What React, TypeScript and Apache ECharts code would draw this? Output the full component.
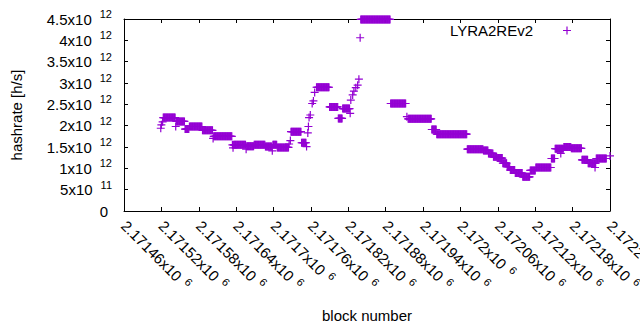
import React, { useEffect, useRef } from 'react';
import * as echarts from 'echarts';

const FONT = '"Liberation Sans", Arial, sans-serif';
const PURPLE = '#9400d3';

const seriesName = 'LYRA2REv2';
const xAxisName = 'block number';
const yAxisName = 'hashrate [h/s]';

// Runs of blocks sharing one hashrate reading (value in units of 1e12 h/s)
const runStart = [
  2171519, 2171520, 2171522, 2171523, 2171543, 2171544, 2171558, 2171565, 2171586, 2171603,
  2171604, 2171634, 2171635, 2171636, 2171656, 2171657, 2171669, 2171687, 2171698, 2171699,
  2171706, 2171725, 2171727, 2171728, 2171745, 2171753, 2171755, 2171756, 2171757, 2171759,
  2171762, 2171764, 2171766, 2171769, 2171790, 2171804, 2171811, 2171823, 2171824, 2171827,
  2171829, 2171832, 2171835, 2171837, 2171839, 2171840, 2171888, 2171914, 2171916, 2171954,
  2171962, 2172011, 2172037, 2172045, 2172053, 2172059, 2172068, 2172075, 2172080, 2172088,
  2172100, 2172112, 2172121, 2172146, 2172152, 2172161, 2172166, 2172178, 2172195, 2172205,
  2172216, 2172218, 2172240,
];
const runEnd = [
  2171519, 2171520, 2171522, 2171542, 2171543, 2171557, 2171564, 2171585, 2171602, 2171603,
  2171633, 2171634, 2171635, 2171655, 2171656, 2171668, 2171686, 2171697, 2171698, 2171705,
  2171724, 2171725, 2171727, 2171744, 2171752, 2171753, 2171755, 2171756, 2171757, 2171759,
  2171762, 2171764, 2171766, 2171789, 2171803, 2171810, 2171822, 2171823, 2171824, 2171827,
  2171829, 2171832, 2171835, 2171837, 2171839, 2171887, 2171912, 2171914, 2171953, 2171961,
  2172010, 2172036, 2172044, 2172052, 2172058, 2172067, 2172074, 2172079, 2172087, 2172099,
  2172111, 2172120, 2172145, 2172151, 2172165, 2172161, 2172177, 2172194, 2172204, 2172217,
  2172216, 2172234, 2172240,
];
const runValue = [
  1.94, 2.02, 2.09, 2.19, 1.98, 2.10, 1.92, 1.98, 1.89, 1.70,
  1.75, 1.55, 1.48, 1.55, 1.45, 1.52, 1.55, 1.51, 1.41, 1.55,
  1.49, 1.57, 1.65, 1.86, 1.60, 1.51, 1.83, 1.98, 2.19, 2.25,
  2.52, 2.58, 2.78, 2.90, 2.44, 2.17, 2.40, 2.29, 2.60, 2.72,
  2.81, 2.89, 2.95, 3.09, 4.06, 4.49, 2.52, 2.21, 2.16, 1.91,
  1.80, 1.45, 1.42, 1.35, 1.27, 1.24, 1.12, 1.04, 0.96, 0.89,
  0.80, 0.95, 1.02, 1.23, 1.46, 1.35, 1.50, 1.47, 1.20, 1.12,
  1.02, 1.23, 1.29,
];

const xMin = 2171460;
const xMax = 2172240;
const xStep = 60;
const xTickMant = [
  '2.17146', '2.17152', '2.17158', '2.17164', '2.1717', '2.17176', '2.17182',
  '2.17188', '2.17194', '2.172', '2.17206', '2.17212', '2.17218', '2.17224',
];
const xTickExp = '6';

const yMin = 0;
const yMax = 4.5e12;
const yStep = 0.5e12;
const yTickMant = ['0', '5', '1', '1.5', '2', '2.5', '3', '3.5', '4', '4.5'];
const yTickExp = ['', '11', '12', '12', '12', '12', '12', '12', '12', '12'];

const PLUS = 'path://M3.4,0h1.2v3.4h3.4v1.2h-3.4v3.4h-1.2v-3.4h-3.4v-1.2h3.4z';
const LEGEND_ICON = 'path://M0,4h0.001v0.001h-0.001z M28.4,0h1.2v3.4h3.4v1.2h-3.4v3.4h-1.2v-3.4h-3.4v-1.2h3.4z';

export default function App() {
  const ref = useRef<HTMLDivElement>(null);
  useEffect(() => {
    if (!ref.current) return;
    const chart = echarts.init(ref.current, undefined, { renderer: 'svg' });
    const data: number[][] = [];
    for (let i = 0; i < runStart.length; i++) {
      for (let b = runStart[i]; b <= runEnd[i]; b++) data.push([b, runValue[i] * 1e12]);
    }
    const axisLineStyle = { show: true, onZero: false, lineStyle: { color: '#000', width: 1 } };
    const tickStyle = { show: true, inside: true, length: 4, lineStyle: { color: '#000', width: 1 } };
    const textBase = { fontSize: 15, fontFamily: FONT, color: '#000' };
    chart.setOption({
      animation: false,
      backgroundColor: '#fff',
      grid: { left: 124, right: 30, top: 19, bottom: 119, containLabel: false, outerBoundsMode: 'none' },
      legend: {
        data: [{ name: seriesName, icon: LEGEND_ICON }],
        right: 69,
        top: 23,
        align: 'right',
        itemWidth: 33,
        itemHeight: 8,
        padding: 0,
        selectedMode: false,
        textStyle: { ...textBase },
      },
      xAxis: [
        {
          type: 'value', position: 'bottom', min: xMin, max: xMax, interval: xStep,
          axisLine: axisLineStyle, axisTick: tickStyle, splitLine: { show: false },
          axisLabel: {
            ...textBase, rotate: -45, margin: 12, lineHeight: 19, hideOverlap: false,
            formatter: (v: number) => {
              const i = Math.round((v - xMin) / xStep);
              return `${xTickMant[i]}x10{sup|${xTickExp}}`;
            },
            rich: { sup: { fontSize: 11, fontFamily: FONT, color: '#000', verticalAlign: 'top', padding: [0, 0, 0, 6] } },
          },
          name: xAxisName, nameLocation: 'middle', nameGap: 97, nameMoveOverlap: false,
          nameTextStyle: { ...textBase },
        },
        {
          type: 'value', position: 'top', min: xMin, max: xMax, interval: xStep,
          axisLine: axisLineStyle, axisTick: tickStyle, splitLine: { show: false },
          axisLabel: { show: false },
        },
      ],
      yAxis: [
        {
          type: 'value', position: 'left', min: yMin, max: yMax, interval: yStep,
          axisLine: axisLineStyle, axisTick: tickStyle, splitLine: { show: false },
          axisLabel: {
            ...textBase, margin: 12, lineHeight: 21,
            formatter: (v: number) => {
              const i = Math.round(v / yStep);
              if (!yTickExp[i]) return `{z|${yTickMant[i]}}`;
              return `${yTickMant[i]}x10{sup|${yTickExp[i]}}`;
            },
            rich: {
              sup: { fontSize: 11, fontFamily: FONT, color: '#000', verticalAlign: 'top', padding: [0, 0, 0, 8] },
              z: { fontSize: 15, fontFamily: FONT, color: '#000', padding: [0, 4, 0, 0] },
            },
          },
          name: yAxisName, nameLocation: 'middle', nameGap: 100, nameMoveOverlap: false,
          nameTextStyle: { ...textBase },
        },
        {
          type: 'value', position: 'right', min: yMin, max: yMax, interval: yStep,
          axisLine: axisLineStyle, axisTick: tickStyle, splitLine: { show: false },
          axisLabel: { show: false },
        },
      ],
      series: [
        {
          name: seriesName,
          type: 'scatter',
          data,
          symbol: PLUS,
          symbolSize: 8,
          clip: false,
          itemStyle: { color: PURPLE, opacity: 1 },
          emphasis: { disabled: true },
        },
      ],
    });
    return () => chart.dispose();
  }, []);
  return (
    <div
      ref={ref}
      style={{ position: 'fixed', left: 0, top: 0, width: 640, height: 330, background: '#fff' }}
    />
  );
}
